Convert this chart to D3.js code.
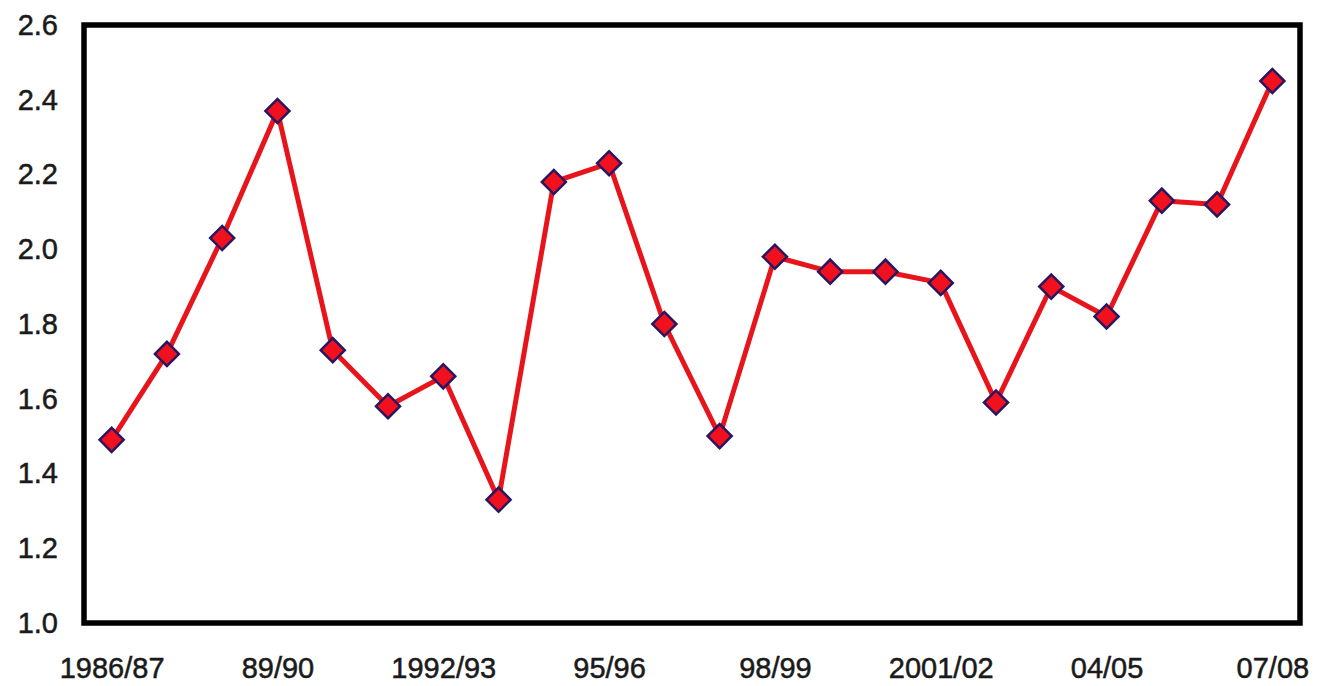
<!DOCTYPE html>
<html><head><meta charset="utf-8">
<script src="https://cdn.jsdelivr.net/npm/d3@7"></script>
<style>html,body{margin:0;padding:0;background:#fff;}svg{display:block;}</style>
</head><body>
<script>
const categories = ["1986/87","87/88","88/89","89/90","90/91","91/92","1992/93","93/94","94/95","95/96","96/97","97/98","98/99","99/00","2000/01","2001/02","02/03","03/04","04/05","05/06","06/07","07/08"];
const values = [1.49,1.72,2.03,2.37,1.73,1.58,1.66,1.33,2.18,2.23,1.80,1.50,1.98,1.94,1.94,1.91,1.59,1.90,1.82,2.13,2.12,2.45];
const yTicks = [1.0,1.2,1.4,1.6,1.8,2.0,2.2,2.4,2.6];
const xTickLabels = ["1986/87","89/90","1992/93","95/96","98/99","2001/02","04/05","07/08"];

const W = 1320, H = 686;
const m = {left:84, right:20, top:25, bottom:63};
const svg = d3.select("body").append("svg").attr("width",W).attr("height",H);

const x = d3.scalePoint().domain(categories).range([m.left, W-m.right]).padding(0.5);
const y = d3.scaleLinear().domain([1.0,2.6]).range([H-m.bottom, m.top]);

const font = "'Liberation Sans', Arial, sans-serif";

// y axis labels
const yAxis = d3.axisLeft(y).tickValues(yTicks).tickFormat(d3.format(".1f")).tickSize(0).tickPadding(26);
const gy = svg.append("g").attr("transform",`translate(${m.left},0)`).call(yAxis);
gy.select(".domain").remove();
gy.selectAll("text").attr("font-family",font).attr("font-size",29).attr("fill","#1a1a1a")
  .attr("stroke","#1a1a1a").attr("stroke-width",0.5);

// x axis labels
const xAxis = d3.axisBottom(x).tickValues(xTickLabels).tickSize(0).tickPadding(34);
const gx = svg.append("g").attr("transform",`translate(0,${H-m.bottom})`).call(xAxis);
gx.select(".domain").remove();
gx.selectAll("text").attr("font-family",font).attr("font-size",29).attr("fill","#1a1a1a")
  .attr("stroke","#1a1a1a").attr("stroke-width",0.5);

// frame
svg.append("rect").attr("x",m.left).attr("y",m.top)
  .attr("width",W-m.right-m.left).attr("height",H-m.bottom-m.top)
  .attr("fill","none").attr("stroke","#000").attr("stroke-width",5.5);

// line
const line = d3.line().x((d,i)=>x(categories[i])).y(d=>y(d));
svg.append("path").datum(values).attr("d",line)
  .attr("fill","none").attr("stroke","#e8141c").attr("stroke-width",5).attr("stroke-linejoin","round");

// markers
const sym = d3.symbol().type(d3.symbolSquare).size(290);
svg.append("g").selectAll("path").data(values).join("path")
  .attr("d",sym)
  .attr("transform",(d,i)=>`translate(${x(categories[i])},${y(d)}) rotate(45)`)
  .attr("fill","#f0101e").attr("stroke","#2a1660").attr("stroke-width",2.5);
</script>
</body></html>
